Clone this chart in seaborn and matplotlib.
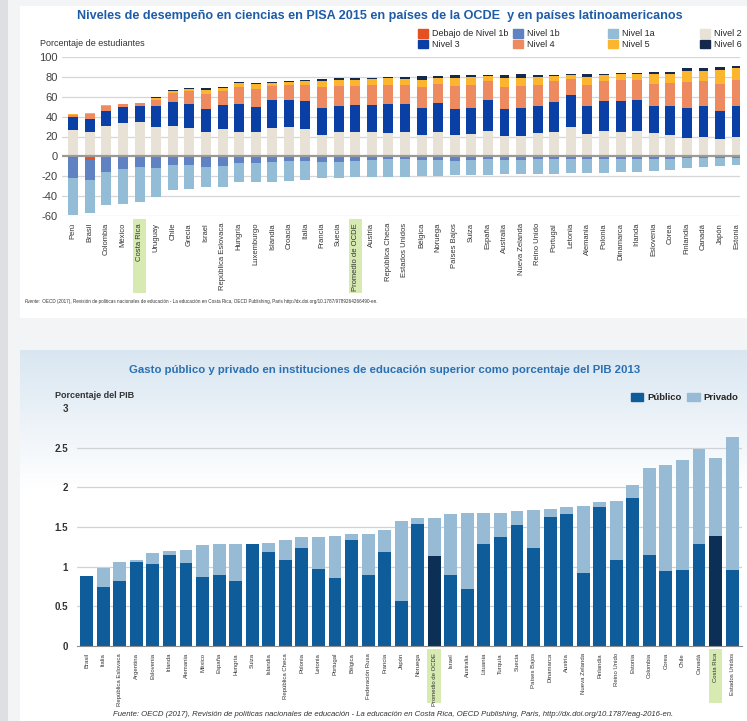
import numpy as np
import pandas as pd
import matplotlib
matplotlib.use('Agg')
import matplotlib.pyplot as plt
import matplotlib.transforms as mtransforms
from matplotlib.patches import Patch, Rectangle
from matplotlib.colors import LinearSegmentedColormap
import seaborn as sns

sns.set_style('white')
plt.rcParams['font.family'] = ['Liberation Sans', 'DejaVu Sans']
plt.rcParams['axes.unicode_minus'] = False

# ---- PISA 2015 ciencias: % de estudiantes por nivel ----
paises_pisa = ['Perú', 'Brasil', 'Colombia', 'México', 'Costa Rica', 'Uruguay', 'Chile', 'Grecia',
               'Israel', 'República Eslovaca', 'Hungría', 'Luxemburgo', 'Islandia', 'Croacia',
               'Italia', 'Francia', 'Suecia', 'Promedio de OCDE', 'Austria', 'República Checa',
               'Estados Unidos', 'Bélgica', 'Noruega', 'Países Bajos', 'Suiza', 'España',
               'Australia', 'Nueva Zelanda', 'Reino Unido', 'Portugal', 'Letonia', 'Alemania',
               'Polonia', 'Dinamarca', 'Irlanda', 'Eslovenia', 'Corea', 'Finlandia', 'Canadá',
               'Japón', 'Estonia']
debajo_1b = [1.5, 4, 1, 0.5, 0.5, 1, 0.5, 0.5, 1.5, 1, 1, 1, 0.5, 0.5, 0.5, 0.5, 0.5, 0.5, 0.5, 0.5,
             0.5, 0.5, 0.5, 0.5, 0.5, 0.5, 0.5, 0.5, 0.5, 0.5, 0.5, 0.5, 0.3, 0.5, 0.3, 0.3, 0.5,
             0.3, 0.3, 0.3, 0.3]
nivel_1b = [20.5, 20, 15, 12.5, 10.5, 11, 8.5, 8.5, 9, 9, 6, 5.5, 5.5, 4.5, 4.5, 5.5, 5.5, 4.5, 3.5,
            2.5, 2.5, 3.5, 3, 4, 3, 2.5, 3, 3, 2.5, 2.5, 2.5, 2.5, 2.7, 2.5, 2.2, 2.2, 2, 1.7, 1.7,
            1.2, 1.2]
nivel_1a = [37, 33, 33, 35, 35, 29, 25, 24, 20.5, 21, 19, 19.5, 19.5, 19.5, 18.5, 16, 16, 16, 17, 18,
            18, 16, 16, 14.5, 15.5, 15.5, 14.5, 14, 14.5, 14.5, 14, 14, 13.5, 13, 13, 12.5, 11.5,
            9.5, 9, 8, 7]
nivel_2 = [27, 25, 31, 34, 35, 30, 31, 29, 24.5, 27.5, 25, 24.5, 29, 30, 27.5, 22, 24.5, 24.5, 24.5,
           24, 25, 22, 24.5, 21.5, 22.5, 26, 20.5, 21, 24, 24.5, 30, 23, 26, 25, 26, 23.5, 22, 18.5,
           19.5, 17.5, 19.5]
nivel_3 = [13, 13, 15, 16, 16, 21, 24, 24, 23, 24.5, 28, 25.5, 27.5, 26.5, 28, 26.5, 26.5, 27.5,
           27.5, 29, 28, 27, 29.5, 26, 26.5, 31, 27.5, 28, 27, 30, 32, 28, 30, 31, 31, 27.5, 28.5,
           30, 31.5, 28.5, 31]
nivel_4 = [2, 5, 5, 2.5, 2.5, 6, 9, 13, 15.5, 14, 17, 18, 14.5, 15.5, 16.5, 21.5, 19.5, 19, 20, 19,
           19, 21, 18.5, 23.5, 22.5, 19, 22, 22, 21, 21, 16, 20.5, 20, 20.5, 20, 22, 23.5, 26.5, 25,
           26.5, 26]
nivel_5 = [0.5, 1, 1, 0.5, 0.5, 2, 2, 2, 4, 3, 4, 5, 3, 3, 3.5, 6, 6.5, 6, 6, 6.5, 6, 7, 6.5, 8,
           8.5, 5, 9, 8, 8, 5, 4, 8, 6, 6, 6, 9.5, 8.5, 10.5, 10, 14, 12]
nivel_6 = [0.1, 0.1, 0.1, 0.1, 0.1, 0.5, 1, 0.5, 1.5, 1, 1, 1, 1, 1, 1.5, 2, 1.5, 1.5, 1, 1.5, 2,
           3.5, 1.5, 2.5, 1.5, 1, 3, 3.5, 2, 1.5, 0.5, 3, 1, 1, 1, 2, 2, 3, 2.5, 3.9, 2.7]

# ---- Gasto en educación superior, % del PIB 2013 ----
paises_gasto = ['Brasil', 'Italia', 'República Eslovaca', 'Argentina', 'Eslovenia', 'Irlanda',
                'Alemania', 'México', 'España', 'Hungría', 'Suiza', 'Islandia', 'República Checa',
                'Polonia', 'Letonia', 'Portugal', 'Bélgica', 'Federación Rusa', 'Francia', 'Japón',
                'Noruega', 'Promedio de OCDE', 'Israel', 'Australia', 'Lituania', 'Turquía',
                'Suecia', 'Países Bajos', 'Dinamarca', 'Austria', 'Nueva Zelanda', 'Finlandia',
                'Reino Unido', 'Estonia', 'Colombia', 'Corea', 'Chile', 'Canadá', 'Costa Rica',
                'Estados Unidos']
publico = [0.88, 0.75, 0.82, 1.06, 1.03, 1.15, 1.04, 0.87, 0.9, 0.82, 1.28, 1.19, 1.08, 1.24, 0.97,
           0.86, 1.33, 0.9, 1.19, 0.57, 1.54, 1.13, 0.9, 0.72, 1.28, 1.37, 1.52, 1.23, 1.62, 1.66,
           0.92, 1.75, 1.08, 1.86, 1.15, 0.94, 0.96, 1.28, 1.39, 0.96]
privado = [0.0, 0.23, 0.24, 0.02, 0.14, 0.05, 0.17, 0.40, 0.39, 0.47, 0.01, 0.11, 0.26, 0.13, 0.40,
           0.53, 0.08, 0.51, 0.27, 1.00, 0.07, 0.48, 0.77, 0.96, 0.40, 0.31, 0.18, 0.49, 0.11, 0.09,
           0.85, 0.06, 0.75, 0.17, 1.09, 1.34, 1.39, 1.20, 0.98, 1.68]

resaltados = ['Costa Rica', 'Promedio de OCDE']

W, H = 747, 721
def fx(x): return x / W
def fy(y): return 1 - y / H

fig = plt.figure(figsize=(W / 100, H / 100), dpi=100, facecolor='#f3f4f6')

# panel backgrounds
fig.add_artist(Rectangle((0, 0), fx(8), 1, transform=fig.transFigure, facecolor='#dedfe2',
                         edgecolor='none', zorder=-5))
fig.add_artist(Rectangle((fx(20), fy(318)), fx(727), fy(6) - fy(318), transform=fig.transFigure,
                         facecolor='white', edgecolor='none', zorder=-5))
bg = fig.add_axes([fx(20), 0, fx(727), fy(350)], zorder=-4)
grad = np.concatenate([np.linspace(0, 1, 140), np.ones(231)])[:, None]
bg.imshow(grad, aspect='auto', extent=(0, 1, 0, 1),
          cmap=LinearSegmentedColormap.from_list('g', ['#d9e6f1', '#ffffff']))
bg.axis('off')

# ================= chart 1 =================
ax1 = fig.add_axes([fx(62), fy(216), fx(740) - fx(62), fy(57) - fy(216)])
df = pd.DataFrame({'pais': paises_pisa, 'd1b': debajo_1b, 'n1b': nivel_1b, 'n1a': nivel_1a,
                   'n2': nivel_2, 'n3': nivel_3, 'n4': nivel_4, 'n5': nivel_5, 'n6': nivel_6})
pos_cols = ['n2', 'n3', 'n4', 'n5', 'n6']
pos_colors = ['#e8e2d6', '#0a3fa6', '#ee8a60', '#fbb52e', '#14294b']
neg_cols = ['d1b', 'n1b', 'n1a']
neg_colors = ['#e4501f', '#5f82c2', '#93bdd6']
cum_pos = df[pos_cols].cumsum(axis=1)
cum_neg = -df[neg_cols].cumsum(axis=1)
for col, c in reversed(list(zip(pos_cols, pos_colors))):
    sns.barplot(x=df['pais'], y=cum_pos[col], color=c, saturation=1, width=0.6,
                errorbar=None, linewidth=0, ax=ax1)
for col, c in reversed(list(zip(neg_cols, neg_colors))):
    sns.barplot(x=df['pais'], y=cum_neg[col], color=c, saturation=1, width=0.6,
                errorbar=None, linewidth=0, ax=ax1)
ax1.set_ylim(-60, 100)
ax1.set_xlim(-0.68, 40.2)
ax1.set_yticks(range(-60, 101, 20))
ax1.set_xlabel('')
ax1.set_ylabel('')
for v in range(-60, 101, 20):
    if v != 0:
        ax1.axhline(v, color='#d6d6d6', lw=0.9, zorder=0)
ax1.axhline(0, color='#9a9a9a', lw=1.6, zorder=3)
sns.despine(ax=ax1, left=True, bottom=True)
ax1.tick_params(axis='y', labelsize=8, colors='#404040', length=0, pad=3)
ax1.tick_params(axis='x', labelrotation=90, labelsize=5.5, length=0, pad=5, colors='#333333')
ax1.set_facecolor('white')
blend1 = mtransforms.blended_transform_factory(ax1.transData, fig.transFigure)
for p in resaltados:
    i = paises_pisa.index(p)
    ax1.add_patch(Rectangle((i - 0.38, fy(293)), 0.76, fy(219) - fy(293), transform=blend1,
                            facecolor='#d6eab2', edgecolor='none', clip_on=False, zorder=0))

fig.text(fx(380), fy(16), 'Niveles de desempeño en ciencias en PISA 2015 en países de la OCDE  y en países latinoamericanos',
         ha='center', va='center', fontsize=9.1, fontweight='bold', color='#1f5ca8')
fig.text(fx(40), fy(44), 'Porcentaje de estudiantes', ha='left', va='center', fontsize=6.5,
         color='#333333')
etiquetas = ['Debajo de Nivel 1b', 'Nivel 1b', 'Nivel 1a', 'Nivel 2',
             'Nivel 3', 'Nivel 4', 'Nivel 5', 'Nivel 6']
colores = neg_colors + pos_colors
# one legend per column so the columns sit where the reference has them
for k, xc in enumerate([418, 513, 608, 700]):
    leg = fig.legend([Patch(color=colores[k]), Patch(color=colores[k + 4])],
                     [etiquetas[k], etiquetas[k + 4]],
                     loc='upper left', bbox_to_anchor=(fx(xc), fy(29)), ncol=1, frameon=False,
                     fontsize=6.5, handlelength=1.1, handleheight=1.1, handletextpad=0.4,
                     labelspacing=0.15, borderaxespad=0, borderpad=0)
f1 = fig.text(fx(25), fy(303), 'Fuente:', style='italic', fontsize=3.35, color='#333333',
              va='baseline')
ax1.annotate(' OECD (2017), Revisión de políticas nacionales de educación - La educación en Costa Rica, OECD Publishing, Paris http://dx.doi.org/10.1787/9789264266490-en.',
             xy=(1, 0), xycoords=f1, va='bottom', ha='left', fontsize=3.35, color='#333333',
             annotation_clip=False)

# ================= chart 2 =================
ax2 = fig.add_axes([fx(77), fy(646), fx(742) - fx(77), fy(408) - fy(646)])
dg = pd.DataFrame({'pais': paises_gasto, 'publico': publico, 'privado': privado})
dg['total'] = dg['publico'] + dg['privado']
pal_pub = {p: ('#0b2f55' if p in resaltados else '#0f5c9b') for p in paises_gasto}
sns.barplot(data=dg, x='pais', y='total', color='#97bbd4', saturation=1, width=0.78,
            errorbar=None, linewidth=0, ax=ax2)
sns.barplot(data=dg, x='pais', y='publico', hue='pais', palette=pal_pub, dodge=False,
            legend=False, saturation=1, width=0.78, errorbar=None, linewidth=0, ax=ax2)
ax2.set_ylim(0, 3)
ax2.set_xlim(-0.59, 39.6)
ax2.set_yticks(np.arange(0, 3.01, 0.5))
ax2.set_yticklabels(['0', '0.5', '1', '1.5', '2', '2.5', '3'])
ax2.set_xlabel('')
ax2.set_ylabel('')
ax2.set_facecolor('none')
for v in np.arange(0.5, 2.51, 0.5):
    ax2.axhline(v, color='#cfd3d7', lw=0.9, zorder=0)
sns.despine(ax=ax2, left=True)
ax2.spines['bottom'].set_color('#8c8c8c')
ax2.set_xticks(np.arange(-0.5, 40, 1), minor=True)
ax2.tick_params(axis='x', which='minor', length=7, direction='inout', color='#8c8c8c', width=0.9)
ax2.tick_params(axis='x', which='major', labelrotation=90, labelsize=4.3, length=0, pad=5,
                colors='#333333')
ax2.tick_params(axis='y', labelsize=7, colors='#333333', length=0, pad=6.5)
for t in ax2.get_yticklabels():
    t.set_fontweight('bold')
blend2 = mtransforms.blended_transform_factory(ax2.transData, fig.transFigure)
for p in resaltados:
    i = paises_gasto.index(p)
    ax2.add_patch(Rectangle((i - 0.42, fy(703)), 0.84, fy(649) - fy(703), transform=blend2,
                            facecolor='#d6eab2', edgecolor='none', clip_on=False, zorder=0))

fig.text(fx(385), fy(370), 'Gasto público y privado en instituciones de educación superior como porcentaje del PIB 2013',
         ha='center', va='center', fontsize=8.2, fontweight='bold', color='#2b70b3')
fig.text(fx(55), fy(395), 'Porcentaje del PIB', ha='left', va='center', fontsize=6.5,
         fontweight='bold', color='#333333')
fig.legend([Patch(color='#0f5c9b'), Patch(color='#97bbd4')], ['Público', 'Privado'],
           loc='upper right', bbox_to_anchor=(fx(742), fy(389)), ncol=2, frameon=False,
           prop={'weight': 'bold', 'size': 6.8},
           handlelength=1.3, handleheight=1.0, handletextpad=0.4, columnspacing=0.6,
           borderaxespad=0)
fig.text(fx(113), fy(716), 'Fuente: OECD (2017), Revisión de políticas nacionales de educación - La educación en Costa Rica, OECD Publishing, Paris, http://dx.doi.org/10.1787/eag-2016-en.',
         style='italic', fontsize=5.6, color='#333333', va='baseline')

fig.savefig('out.png', dpi=100)
